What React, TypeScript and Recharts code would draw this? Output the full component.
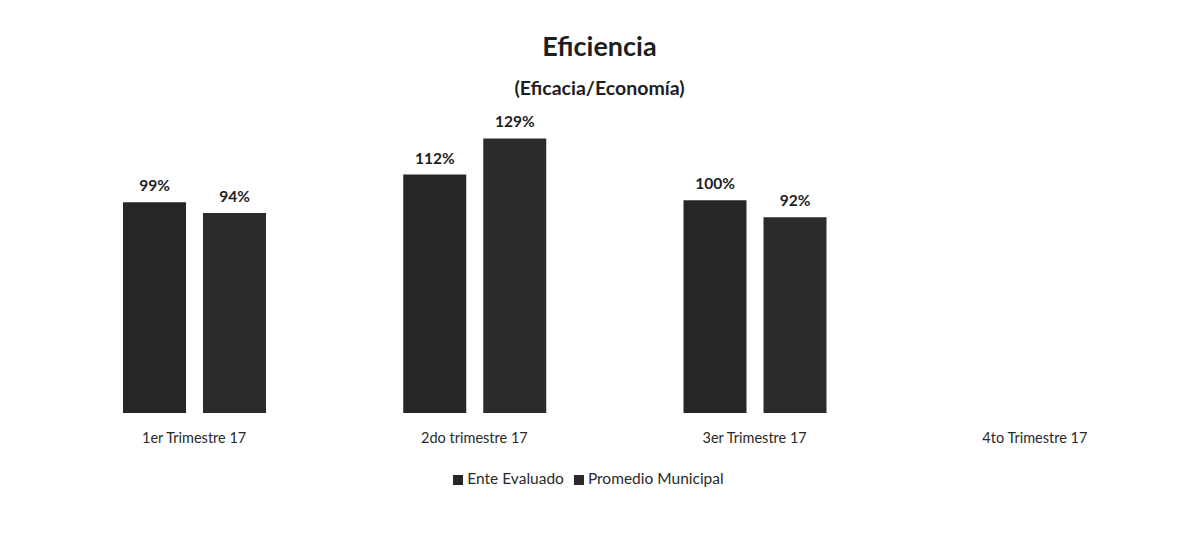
import { BarChart, Bar, XAxis, YAxis, Legend, LabelList } from "recharts";

const trimestres = ["1er Trimestre 17", "2do trimestre 17", "3er Trimestre 17", "4to Trimestre 17"];
const enteEvaluado = [99, 112, 100, null];
const promedioMunicipal = [94, 129, 92, null];

const data = trimestres.map((t, i) => ({
  name: t,
  ente: enteEvaluado[i],
  promedio: promedioMunicipal[i],
}));

const font = "Lato, 'Open Sans', sans-serif";

const fmt = (v: any) => (v == null ? "" : `${v}%`);

const App = () => {
  return (
    <div
      style={{
        position: "absolute",
        left: 0,
        top: 0,
        width: 1187,
        height: 540,
        background: "#fff",
        fontFamily: font,
      }}
    >
      <div
        style={{
          position: "absolute",
          top: 29,
          width: 1187,
          textAlign: "center",
          fontSize: 27,
          fontWeight: 700,
          color: "#1e1e1e",
          paddingLeft: 6,
        }}
      >
        Eficiencia
      </div>
      <div
        style={{
          position: "absolute",
          top: 76,
          width: 1187,
          textAlign: "center",
          fontSize: 19.5,
          fontWeight: 700,
          color: "#1e1e1e",
          paddingLeft: 6,
        }}
      >
        (Eficacia/Economía)
      </div>
      <BarChart
        width={1187}
        height={540}
        data={data}
        margin={{ top: 115, right: 12, left: 54, bottom: 89 }}
        barSize={63}
        barGap={17}
      >
        <XAxis
          dataKey="name"
          axisLine={false}
          tickLine={false}
          tickSize={0}
          tickMargin={20}
          height={20}
          interval={0}
          tick={{ fill: "#2a2a2a", fontSize: 14.5, fontFamily: font }}
        />
        <YAxis hide domain={[0, 140]} />
        <Legend
          verticalAlign="bottom"
          align="center"
          iconType="square"
          iconSize={10}
          wrapperStyle={{ top: 469, left: 0, width: 1187, fontSize: 15.5, fontFamily: font }}
          formatter={(value) => <span style={{ color: "#2a2a2a" }}>{value}</span>}
        />
        <Bar dataKey="ente" name="Ente Evaluado" fill="#262626" isAnimationActive={false}>
          <LabelList
            dataKey="ente"
            position="top"
            offset={11}
            formatter={fmt}
            style={{ fill: "#1e1e1e", fontSize: 15.5, fontWeight: 700, fontFamily: font }}
          />
        </Bar>
        <Bar dataKey="promedio" name="Promedio Municipal" fill="#2b2b2b" isAnimationActive={false}>
          <LabelList
            dataKey="promedio"
            position="top"
            offset={11}
            formatter={fmt}
            style={{ fill: "#1e1e1e", fontSize: 15.5, fontWeight: 700, fontFamily: font }}
          />
        </Bar>
      </BarChart>
    </div>
  );
};

export default App;
